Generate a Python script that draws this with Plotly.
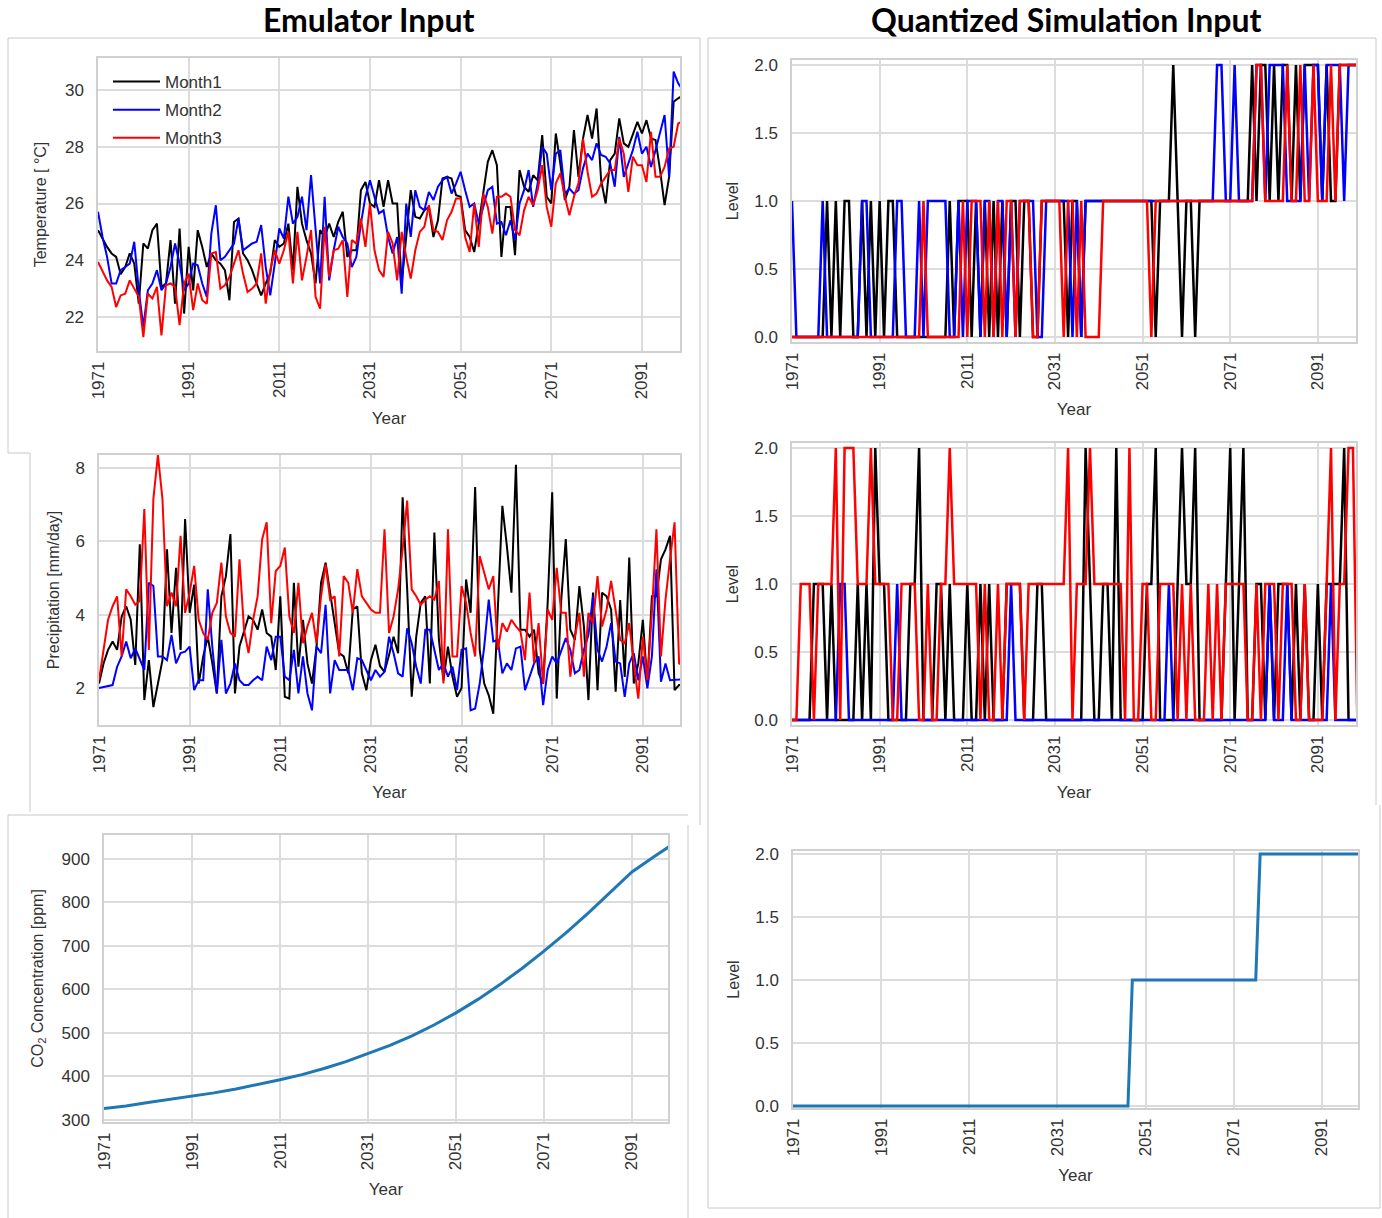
import plotly.graph_objects as go

W, H = 1382, 1218
YEARS = list(range(1971, 2101))

# ---------------- Emulator input: temperature (deg C) ----------------
temp_month1 = [
    25.06, 24.76, 24.47, 24.24, 24.12, 23.51, 23.76, 24.24, 23.88, 22.47,
    24.59, 24.41, 25.06, 25.29, 23.06, 23.18, 24.71, 22.47, 25.12, 22.12,
    24.47, 22.94, 25.06, 24.47, 23.76, 24.24, 24.00, 23.88, 23.65, 22.59,
    25.35, 25.47, 24.24, 24.00, 23.65, 23.18, 22.76, 23.18, 23.53, 24.71,
    24.47, 24.59, 25.29, 23.65, 26.59, 25.29, 24.71, 24.24, 23.18, 25.06,
    24.82, 25.29, 24.82, 25.35, 25.71, 24.12, 24.35, 24.35, 26.47, 26.76,
    26.00, 25.88, 26.82, 25.88, 26.82, 26.00, 26.00, 23.18, 24.82, 26.47,
    25.53, 25.47, 25.76, 25.88, 24.82, 25.41, 26.88, 26.94, 26.88, 26.29,
    26.24, 25.06, 24.82, 24.29, 25.29, 26.35, 27.47, 27.88, 27.35, 24.12,
    25.88, 25.88, 24.18, 27.18, 26.59, 26.41, 27.00, 26.82, 28.41, 26.24,
    26.00, 28.47, 27.41, 26.12, 26.59, 28.59, 26.94, 28.29, 29.12, 28.29,
    29.35, 26.82, 26.00, 27.53, 27.76, 29.00, 28.12, 28.00, 28.47, 28.88,
    28.47, 28.94, 28.29, 28.24, 27.18, 25.94, 26.94, 29.59, 29.71, 29.80,
]
temp_month2 = [
    25.71, 24.82, 24.12, 23.18, 23.18, 23.65, 23.76, 23.88, 24.65, 22.94,
    21.65, 22.94, 23.18, 23.65, 22.94, 23.18, 23.76, 24.59, 23.88, 22.94,
    23.18, 23.88, 23.82, 23.18, 22.71, 24.94, 25.94, 24.00, 24.12, 24.35,
    24.59, 25.47, 24.35, 24.47, 24.59, 24.65, 25.24, 23.76, 22.76, 23.88,
    25.12, 24.76, 26.24, 25.29, 25.53, 26.24, 25.06, 27.00, 25.18, 23.18,
    26.24, 23.29, 24.35, 25.18, 24.82, 24.59, 23.76, 24.12, 25.29, 26.24,
    26.82, 26.24, 25.65, 25.76, 24.82, 24.24, 24.82, 22.82, 26.00, 24.82,
    26.47, 25.88, 25.76, 26.41, 26.12, 26.59, 26.82, 26.94, 26.35, 26.71,
    27.12, 26.47, 25.88, 26.00, 25.29, 25.88, 26.47, 26.59, 25.29, 25.35,
    24.88, 25.41, 24.71, 26.00, 26.47, 27.18, 25.88, 26.71, 28.00, 27.76,
    26.47, 27.76, 27.88, 26.35, 26.53, 26.35, 26.47, 27.24, 27.76, 27.53,
    28.12, 27.71, 27.65, 27.41, 26.59, 28.35, 26.94, 27.41, 27.88, 28.53,
    27.76, 28.00, 27.29, 27.88, 28.47, 29.12, 26.94, 30.65, 30.24, 30.00,
]
temp_month3 = [
    23.94, 23.59, 23.29, 23.06, 22.35, 22.76, 22.82, 23.29, 23.00, 22.71,
    21.29, 22.82, 22.65, 23.06, 21.35, 23.12, 23.18, 23.06, 21.71, 23.18,
    23.53, 22.24, 23.18, 22.59, 22.47, 24.24, 24.29, 23.00, 23.12, 23.41,
    23.88, 24.35, 23.53, 22.88, 23.00, 23.18, 24.24, 22.47, 23.65, 24.35,
    23.88, 24.35, 25.00, 23.18, 25.00, 23.29, 24.12, 25.06, 22.71, 22.29,
    25.18, 23.41, 24.35, 24.41, 24.71, 22.71, 24.71, 24.59, 25.47, 24.47,
    26.00, 24.35, 23.65, 23.41, 25.00, 24.59, 23.29, 25.00, 24.12, 23.35,
    24.35, 25.00, 25.18, 25.94, 25.06, 25.00, 24.71, 25.41, 25.71, 26.18,
    26.18, 24.82, 24.29, 26.00, 24.47, 26.35, 25.88, 24.94, 26.24, 26.24,
    26.35, 26.24, 25.06, 24.88, 25.76, 26.24, 25.94, 26.47, 27.35, 25.88,
    25.18, 26.71, 27.06, 26.24, 25.59, 26.24, 26.71, 28.29, 27.12, 26.24,
    26.35, 26.71, 26.94, 27.18, 27.18, 28.29, 27.76, 26.41, 27.65, 27.35,
    27.35, 26.76, 28.53, 26.94, 26.94, 27.29, 27.94, 28.00, 28.82, 28.90,
]

# ---------------- Emulator input: precipitation (mm/day) ----------------
precip_month1 = [
    2.12, 2.67, 3.04, 3.27, 3.04, 3.95, 4.23, 3.86, 2.63, 5.92,
    1.67, 2.76, 1.48, 2.12, 2.76, 5.78, 3.50, 5.28, 3.04, 6.61,
    4.05, 4.82, 2.12, 2.86, 3.40, 2.67, 1.85, 4.50, 5.05, 6.20,
    1.85, 3.13, 3.54, 3.95, 3.86, 3.59, 4.14, 3.50, 3.40, 2.49,
    4.50, 1.76, 1.71, 4.87, 2.58, 3.86, 2.67, 2.12, 3.13, 4.87,
    5.42, 4.60, 3.77, 2.95, 2.86, 2.40, 4.14, 4.23, 2.40, 1.94,
    2.76, 3.18, 2.60, 2.44, 2.90, 3.40, 2.95, 7.20, 4.69, 1.76,
    3.40, 4.32, 4.50, 2.12, 6.24, 3.31, 2.21, 3.13, 2.31, 1.76,
    2.00, 4.96, 4.05, 7.48, 3.04, 2.12, 1.80, 1.30, 4.14, 6.97,
    5.87, 4.60, 8.09, 3.59, 3.59, 3.40, 3.59, 2.40, 2.12, 4.32,
    7.34, 1.71, 4.41, 6.06, 3.59, 3.31, 4.78, 3.68, 1.67, 4.60,
    1.94, 4.60, 4.50, 4.14, 1.90, 4.40, 2.30, 5.56, 2.12, 2.67,
    3.86, 2.12, 4.50, 4.50, 5.51, 5.78, 6.15, 1.94, 2.08, 2.10,
]
precip_month2 = [
    2.00, 2.02, 2.05, 2.08, 2.58, 2.86, 3.27, 2.81, 3.08, 2.76,
    2.49, 4.87, 4.78, 2.86, 2.86, 2.76, 3.45, 2.67, 2.95, 2.99,
    3.13, 1.94, 2.21, 2.21, 4.69, 3.13, 1.85, 3.31, 1.85, 2.12,
    2.67, 2.21, 2.08, 2.08, 2.21, 2.31, 2.21, 3.13, 2.76, 3.40,
    3.40, 2.31, 2.21, 3.04, 1.85, 2.86, 1.85, 1.39, 3.13, 2.95,
    4.27, 1.85, 2.76, 2.49, 2.49, 2.49, 1.94, 2.81, 2.76, 2.49,
    2.21, 2.49, 2.31, 2.44, 3.40, 2.95, 2.40, 2.31, 3.63, 3.22,
    2.58, 2.12, 3.59, 3.59, 3.04, 2.49, 2.67, 2.31, 2.58, 1.94,
    3.04, 3.08, 1.39, 1.44, 2.12, 3.13, 4.41, 3.27, 3.31, 2.40,
    2.67, 2.49, 3.08, 3.13, 1.94, 2.31, 2.67, 2.86, 1.53, 2.49,
    2.86, 2.67, 3.04, 3.36, 3.04, 2.40, 2.49, 3.04, 3.45, 4.50,
    3.04, 2.72, 3.13, 3.77, 2.72, 2.67, 1.76, 2.67, 2.95, 2.21,
    2.86, 1.99, 2.86, 5.24, 2.17, 2.67, 2.21, 2.21, 2.23, 2.25,
]
precip_month3 = [
    2.21, 3.04, 3.86, 4.23, 4.50, 2.86, 4.69, 4.50, 4.27, 4.37,
    6.88, 3.04, 7.16, 8.35, 7.16, 4.23, 4.60, 4.23, 6.15, 4.05,
    4.60, 5.33, 3.86, 3.50, 3.31, 4.05, 4.32, 5.42, 3.95, 3.50,
    3.40, 5.51, 3.59, 2.95, 3.86, 4.50, 6.06, 6.52, 3.77, 5.19,
    5.33, 5.83, 3.95, 3.50, 4.87, 3.22, 3.68, 4.05, 3.22, 4.50,
    5.37, 4.41, 4.50, 2.86, 5.05, 4.87, 4.05, 5.24, 4.50, 4.32,
    4.14, 4.05, 4.05, 6.33, 3.50, 3.95, 4.69, 5.78, 7.11, 4.69,
    4.50, 4.27, 4.41, 4.50, 4.41, 4.92, 2.12, 6.33, 2.86, 2.86,
    4.78, 4.32, 3.50, 2.86, 5.60, 5.14, 4.69, 5.05, 3.04, 3.77,
    3.54, 3.86, 3.68, 3.54, 2.76, 4.60, 2.67, 3.77, 2.12, 4.14,
    3.86, 5.28, 4.05, 4.05, 2.31, 3.40, 4.05, 2.31, 4.05, 3.77,
    5.05, 3.68, 4.14, 4.92, 4.14, 3.31, 3.22, 3.77, 2.67, 1.71,
    3.40, 2.21, 4.05, 6.33, 2.86, 4.41, 5.51, 6.52, 2.67, 2.60,
]

# ---------------- Emulator input: CO2 (ppm) ----------------
co2_years = [1971, 1976, 1981, 1986, 1991, 1996, 2001, 2006, 2011, 2016, 2021, 2026, 2031,
             2036, 2041, 2046, 2051, 2056, 2061, 2066, 2071, 2076, 2081, 2086, 2091, 2096, 2100]
co2_ppm = [326, 332, 340, 347, 355, 362, 371, 381, 392, 404, 418, 434, 452,
           471, 493, 518, 546, 577, 611, 648, 688, 730, 775, 822, 870, 905, 932]

# ---------------- Quantized simulation input: temperature level ----------------
tq_month1 = [
    0, 0, 0, 0, 0, 0, 0, 0, 1, 0,
    1, 0, 1, 1, 0, 0, 1, 0, 1, 0,
    1, 0, 1, 1, 0, 0, 0, 0, 0, 0,
    0, 0, 0, 0, 0, 0, 1, 0, 1, 1,
    1, 0, 1, 0, 1, 0, 1, 0, 1, 0,
    1, 1, 0, 1, 1, 0, 0, 1, 1, 1,
    1, 1, 1, 0, 1, 1, 0, 1, 1, 1,
    1, 1, 1, 1, 1, 1, 1, 1, 1, 1,
    1, 1, 1, 0, 1, 1, 1, 2, 1, 0,
    1, 1, 0, 1, 1, 1, 1, 1, 1, 1,
    1, 1, 1, 1, 1, 2, 1, 2, 2, 1,
    2, 1, 2, 2, 1, 2, 1, 2, 2, 2,
    2, 1, 2, 1, 1, 2, 2, 2, 2, 2,
]
tq_month2 = [
    1, 0, 0, 0, 0, 0, 0, 1, 0, 0,
    0, 0, 0, 0, 0, 0, 1, 1, 0, 0,
    0, 0, 0, 0, 1, 1, 0, 0, 0, 1,
    0, 1, 1, 1, 1, 1, 0, 0, 1, 0,
    1, 1, 1, 0, 1, 1, 0, 1, 1, 0,
    1, 0, 1, 1, 1, 1, 0, 0, 1, 1,
    1, 1, 1, 1, 0, 1, 0, 1, 1, 1,
    1, 1, 1, 1, 1, 1, 1, 1, 1, 1,
    1, 1, 1, 1, 1, 1, 1, 1, 1, 1,
    1, 1, 1, 1, 1, 1, 1, 2, 2, 1,
    1, 2, 1, 1, 1, 1, 2, 2, 1, 2,
    2, 2, 2, 1, 1, 1, 1, 2, 1, 2,
    2, 1, 2, 2, 2, 2, 1, 2, 2, 2,
]
tq_month3 = [
    0, 0, 0, 0, 0, 0, 0, 0, 0, 0,
    0, 0, 0, 0, 0, 0, 0, 0, 0, 0,
    0, 0, 0, 0, 0, 0, 0, 0, 0, 0,
    1, 0, 0, 0, 0, 0, 0, 0, 0, 1,
    0, 1, 1, 1, 0, 1, 0, 1, 0, 1,
    1, 0, 1, 1, 1, 0, 0, 1, 1, 1,
    1, 1, 0, 1, 1, 0, 1, 0, 0, 0,
    0, 1, 1, 1, 1, 1, 1, 1, 1, 1,
    1, 1, 0, 1, 1, 1, 1, 1, 1, 1,
    1, 1, 1, 1, 1, 1, 1, 1, 1, 1,
    1, 1, 1, 1, 1, 1, 2, 2, 1, 1,
    1, 1, 1, 2, 1, 1, 2, 1, 1, 2,
    1, 1, 1, 2, 1, 2, 2, 2, 2, 2,
]

# ---------------- Quantized simulation input: precipitation level ----------------
pq_month1 = [
    0, 0, 0, 0, 0, 1, 1, 1, 0, 1,
    0, 0, 0, 0, 0, 1, 0, 1, 0, 2,
    1, 1, 0, 0, 0, 0, 0, 1, 1, 2,
    0, 0, 0, 1, 1, 0, 1, 0, 0, 0,
    1, 0, 0, 1, 0, 1, 0, 0, 0, 1,
    1, 1, 1, 0, 0, 0, 1, 1, 0, 0,
    0, 0, 0, 0, 0, 0, 0, 2, 1, 0,
    0, 1, 1, 0, 2, 0, 0, 0, 0, 0,
    0, 1, 1, 2, 0, 0, 0, 0, 1, 2,
    1, 1, 2, 0, 0, 0, 0, 0, 0, 1,
    2, 0, 1, 2, 0, 0, 1, 1, 0, 1,
    0, 1, 1, 1, 0, 1, 0, 1, 0, 0,
    1, 0, 1, 1, 1, 1, 2, 0, 0, 0,
]
pq_month2 = [
    0, 0, 0, 0, 0, 0, 0, 0, 0, 0,
    0, 1, 1, 0, 0, 0, 0, 0, 0, 0,
    0, 0, 0, 0, 1, 0, 0, 0, 0, 0,
    0, 0, 0, 0, 0, 0, 0, 0, 0, 0,
    0, 0, 0, 0, 0, 0, 0, 0, 0, 0,
    1, 0, 0, 0, 0, 0, 0, 0, 0, 0,
    0, 0, 0, 0, 0, 0, 0, 0, 0, 0,
    0, 0, 0, 0, 0, 0, 0, 0, 0, 0,
    0, 0, 0, 0, 0, 0, 1, 0, 0, 0,
    0, 0, 0, 0, 0, 0, 0, 0, 0, 0,
    0, 0, 0, 0, 0, 0, 0, 0, 0, 1,
    0, 0, 0, 1, 0, 0, 0, 0, 0, 0,
    0, 0, 0, 1, 0, 0, 0, 0, 0, 0,
]
pq_month3 = [
    0, 0, 1, 1, 1, 0, 1, 1, 1, 1,
    2, 0, 2, 2, 2, 1, 1, 1, 2, 1,
    1, 1, 1, 0, 0, 1, 1, 1, 1, 0,
    0, 1, 0, 0, 1, 1, 2, 1, 1, 1,
    1, 1, 1, 0, 1, 0, 0, 1, 0, 1,
    1, 1, 1, 0, 1, 1, 1, 1, 1, 1,
    1, 1, 1, 2, 0, 1, 1, 1, 2, 1,
    1, 1, 1, 1, 1, 1, 0, 2, 0, 0,
    1, 1, 0, 0, 1, 1, 1, 1, 0, 1,
    0, 1, 0, 0, 0, 1, 0, 1, 0, 1,
    1, 1, 1, 1, 0, 0, 1, 0, 1, 1,
    1, 0, 1, 1, 1, 0, 0, 1, 0, 0,
    0, 0, 1, 2, 0, 1, 1, 2, 2, 0,
]

# ---------------- Quantized simulation input: CO2 level ----------------
co2_level = [0] * 77 + [1] * 29 + [2] * 24

XTICKS = [1971, 1991, 2011, 2031, 2051, 2071, 2091]
MONTH_NAMES = ["Month1", "Month2", "Month3"]
MONTH_COLORS = ["#000000", "#0000ff", "#ff0000"]

TXT = "#333333"
GRID = "#dcdcdc"
FONT = "Liberation Sans, Arial, sans-serif"


def dom(x0, x1, y0, y1):
    return [x0 / W, x1 / W], [1 - y1 / H, 1 - y0 / H]


# pixel boxes of each plotting area
panels = {
    1: dom(98, 680, 58, 351),
    2: dom(99, 680, 455, 725),
    3: dom(104, 668, 835, 1122),
    4: dom(792, 1356, 60, 342),
    5: dom(792, 1356, 443, 725),
    6: dom(793, 1358, 851, 1108),
}
yranges = {1: [20.8, 31.13], 2: [0.99, 8.355], 3: [295, 955],
           4: [-0.037, 2.037], 5: [-0.037, 2.037], 6: [-0.016, 2.024]}
xranges = {1: [1971, 2099.4], 2: [1971, 2099.2], 3: [1971, 2099.2],
           4: [1971, 2099.7], 5: [1971, 2099.7], 6: [1971, 2099.2]}
ytitles = {1: "Temperature [ \u00b0C]", 2: "Precipitation [mm/day]",
           3: "CO<sub>2</sub> Concentration [ppm]", 4: "Level", 5: "Level", 6: "Level"}
ystandoff = {1: 14, 2: 12, 3: 14, 4: 12, 5: 12, 6: 12}

fig = go.Figure()

def add(i, x, y, color, width, name=None, show=False):
    fig.add_trace(go.Scatter(
        x=x, y=y, mode="lines", name=name, showlegend=show,
        legendgroup=name if show else None,
        line=dict(color=color, width=width),
        xaxis="x" if i == 1 else f"x{i}", yaxis="y" if i == 1 else f"y{i}",
    ))

for k, series in enumerate([temp_month1, temp_month2, temp_month3]):
    add(1, YEARS[:len(series)], series, MONTH_COLORS[k], 2, MONTH_NAMES[k], True)
for k, series in enumerate([precip_month1, precip_month2, precip_month3]):
    add(2, YEARS[:len(series)], series, MONTH_COLORS[k], 2)
add(3, co2_years, co2_ppm, "#1f77b4", 3)
for k, series in enumerate([tq_month1, tq_month2, tq_month3]):
    add(4, YEARS[:len(series)], series, MONTH_COLORS[k], 2.5)
for k, series in enumerate([pq_month1, pq_month2, pq_month3]):
    add(5, YEARS[:len(series)], series, MONTH_COLORS[k], 2.5)
add(6, YEARS[:len(co2_level)], co2_level, "#1f77b4", 3)

layout = dict(
    width=W, height=H, margin=dict(l=0, r=0, t=0, b=0, autoexpand=False),
    paper_bgcolor="white", plot_bgcolor="white",
    font=dict(family=FONT, color=TXT, size=16),
    legend=dict(x=108 / W, y=1 - 64 / H, xanchor="left", yanchor="top",
                bgcolor="rgba(0,0,0,0)", font=dict(size=17, color=TXT),
                tracegroupgap=3, itemwidth=47),
)
for i in range(1, 7):
    xd, yd = panels[i]
    xk = "xaxis" if i == 1 else f"xaxis{i}"
    yk = "yaxis" if i == 1 else f"yaxis{i}"
    ya = "y" if i == 1 else f"y{i}"
    xa = "x" if i == 1 else f"x{i}"
    layout[xk] = dict(
        domain=xd, anchor=ya, range=xranges[i], tickvals=XTICKS,
        tickangle=-90, showgrid=True, gridcolor=GRID, gridwidth=1.5,
        showline=True, linecolor="#d0d0d0", linewidth=1.5, mirror=True,
        zeroline=False, ticks="", ticklabelstandoff=2, automargin=False,
        tickfont=dict(size=17, color=TXT),
        title=dict(text="Year", font=dict(size=17, color=TXT), standoff=14),
    )
    yconf = dict(
        domain=yd, anchor=xa, range=yranges[i], showgrid=True, gridcolor=GRID,
        gridwidth=1.5, showline=True, linecolor="#d0d0d0", linewidth=1.5,
        mirror=True, zeroline=False, ticks="", ticklabelstandoff=9, automargin=False,
        tickfont=dict(size=17, color=TXT),
        title=dict(text=ytitles[i], font=dict(size=16, color=TXT), standoff=ystandoff[i]),
    )
    if i == 1:
        yconf["tickvals"] = [22, 24, 26, 28, 30]
    elif i == 2:
        yconf["tickvals"] = [2, 4, 6, 8]
    elif i == 3:
        yconf["tickvals"] = [300, 400, 500, 600, 700, 800, 900]
    else:
        yconf["tickvals"] = [0, 0.5, 1.0, 1.5, 2.0]
        yconf["tickformat"] = ".1f"
    layout[yk] = yconf

fig.update_layout(**layout)

# Column titles
fig.add_annotation(text="<b>Emulator Input</b>", x=369 / W, y=1 - 20 / H, xref="paper", yref="paper",
                   showarrow=False, font=dict(family="Lato, sans-serif", size=32, color="black"),
                   xanchor="center", yanchor="middle")
fig.add_annotation(text="<b>Quantized Simulation Input</b>", x=1066 / W, y=1 - 20 / H, xref="paper",
                   yref="paper", showarrow=False,
                   font=dict(family="Lato, sans-serif", size=32, color="black"),
                   xanchor="center", yanchor="middle")

# Screenshot frame lines
frame = [
    (8, 38, 700, 38), (8, 38, 8, 453), (8, 453, 30, 453), (30, 453, 30, 812),
    (700, 38, 700, 825), (8, 815, 688, 815), (8, 815, 8, 1218), (688, 825, 688, 1218),
    (708, 38, 1376, 38), (708, 38, 708, 1208), (1376, 38, 1376, 805),
    (1380, 805, 1380, 1208), (708, 1208, 1380, 1208),
]
for x0, y0, x1, y1 in frame:
    fig.add_shape(type="line", xref="paper", yref="paper",
                  x0=x0 / W, x1=x1 / W, y0=1 - y0 / H, y1=1 - y1 / H,
                  line=dict(color="#c8c8c8", width=1))

fig.write_html(
    "out.html",
    config={"displayModeBar": False},
    post_script="document.body.style.margin='0px';document.body.style.overflow='hidden';",
)
